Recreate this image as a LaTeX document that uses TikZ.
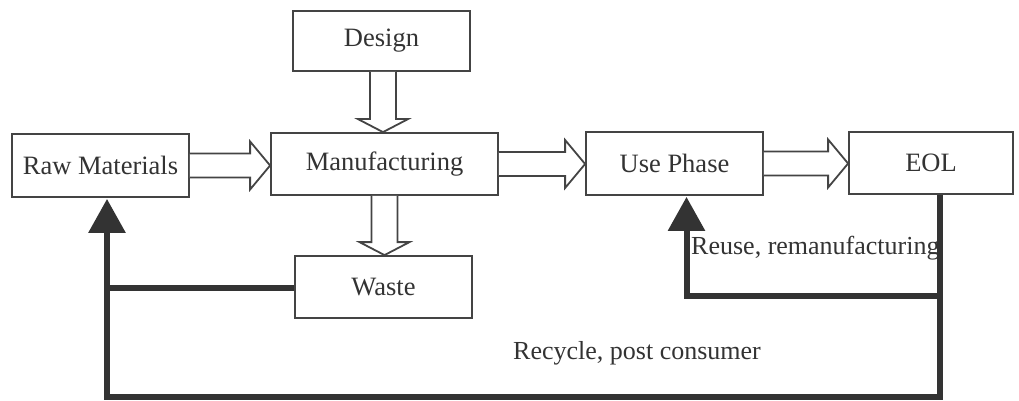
\documentclass[tikz,border=0pt]{standalone}
\usepackage{fontspec}
\setmainfont{Liberation Serif}
\usetikzlibrary{arrows.meta,calc}
\definecolor{ink}{HTML}{333333}
\definecolor{edge}{HTML}{444444}
\tikzset{
  box/.style={draw=edge, line width=1.8pt, fill=white, inner sep=0pt, text=ink,
    font=\fontsize{26.5}{30}\selectfont},
  blockarr/.style={draw=edge, line width=1.8pt, line join=miter, fill=white},
  fb/.style={draw=ink, line width=6pt, line join=miter},
  fbtip/.style={-{Triangle[width=36pt,length=34pt]}},
  lab/.style={inner sep=0pt, text=ink, font=\fontsize{26}{30}\selectfont}
}
% horizontal hollow block arrow from #1 to #2 (same y)
\newcommand{\harrow}[2]{%
  \draw[blockarr] ($(#1)+(0,-12)$) -- ($(#2)+(-20,-12)$) -- ($(#2)+(-20,-24)$) -- (#2)
     -- ($(#2)+(-20,24)$) -- ($(#2)+(-20,12)$) -- ($(#1)+(0,12)$);}
% vertical hollow block arrow downward from #1 to #2 (y axis points down)
\newcommand{\varrow}[2]{%
  \draw[blockarr] ($(#1)+(-13,0)$) -- ($(#2)+(-13,-13)$) -- ($(#2)+(-25,-13)$) -- (#2)
     -- ($(#2)+(25,-13)$) -- ($(#2)+(13,-13)$) -- ($(#1)+(13,0)$);}
\begin{document}
\begin{tikzpicture}[x=1pt,y=-1pt]
\useasboundingbox[fill=white] (0,0) rectangle (1019,401);

\node[box, minimum width=177pt, minimum height=63pt] (raw) at (100.5,165.5) {Raw Materials};
\node[box, minimum width=177pt, minimum height=60pt] (design) at (381.5,41) {Design};
\node[box, minimum width=227pt, minimum height=62pt] (manu) at (384.5,164) {Manufacturing};
\node[box, minimum width=177pt, minimum height=62pt] (waste) at (383.5,287) {Waste};
\node[box, minimum width=177pt, minimum height=63pt] (use) at (674.5,163.5) {Use Phase};
\node[box, minimum width=164pt, minimum height=62pt] (eol) at (931,163) {EOL};

% hollow block arrows
\coordinate (a1s) at (raw.east);
\coordinate (a1e) at (manu.west |- raw.east);
\harrow{a1s}{a1e}
\coordinate (a2s) at (manu.east);
\coordinate (a2e) at (use.west |- manu.east);
\harrow{a2s}{a2e}
\coordinate (a3s) at (use.east);
\coordinate (a3e) at (eol.west |- use.east);
\harrow{a3s}{a3e}
\coordinate (d1s) at ([xshift=1.5pt]design.south);
\coordinate (d1e) at (d1s |- manu.north);
\varrow{d1s}{d1e}
\coordinate (w1s) at (manu.south);
\coordinate (w1e) at (w1s |- waste.north);
\varrow{w1s}{w1e}

% feedback loops
\coordinate (eolout) at ([xshift=9pt]eol.south);
\coordinate (bottom) at (0,397);
\coordinate (reuselev) at (0,296);
\coordinate (rawin) at ([xshift=6.5pt,yshift=-1pt]raw.south);
\coordinate (usein) at ([xshift=12pt,yshift=-1pt]use.south);
\coordinate (wastelev) at (0,288);

\draw[fb, fbtip] (eolout) -- (eolout |- bottom) -| (rawin);
\draw[fb, fbtip] (eolout |- reuselev) -| (usein);
\draw[fb] (waste.west |- wastelev) -- (rawin |- wastelev);

\node[lab, anchor=base west] (reuselab) at (691,254) {Reuse, remanufacturing};
\node[lab, anchor=base] (recyclelab) at (637,359) {Recycle, post consumer};
\end{tikzpicture}
\end{document}
